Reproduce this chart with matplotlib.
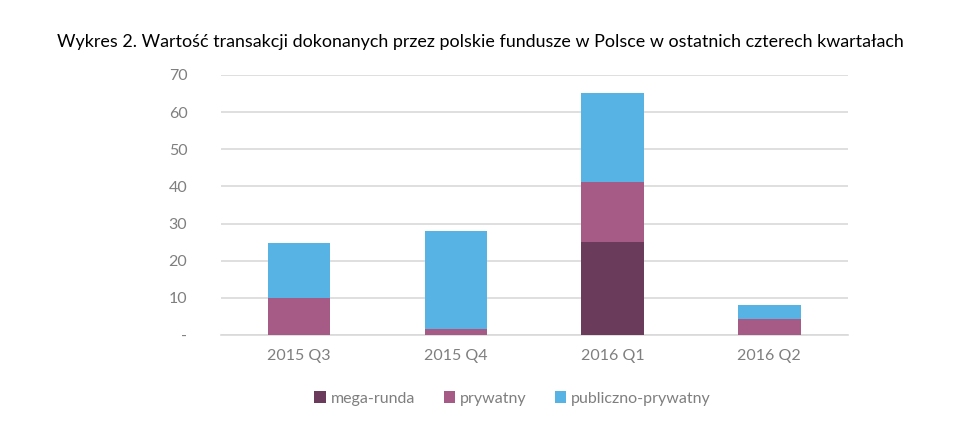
import numpy as np
import matplotlib.pyplot as plt

quarters = ["2015 Q3", "2015 Q4", "2016 Q1", "2016 Q2"]
mega_runda = [0.0, 0.0, 25.0, 0.0]
prywatny = [10.0, 1.6, 16.2, 4.3]
publiczno_prywatny = [14.8, 26.4, 24.0, 3.8]

colors = ["#6B3B5B", "#A65B87", "#56B3E4"]
labels = ["mega-runda", "prywatny", "publiczno-prywatny"]

plt.rcParams['font.family'] = ['Lato', 'DejaVu Sans']

fig = plt.figure(figsize=(9.58, 4.38), dpi=100)
ax = fig.add_axes([0.2304, 0.2352, 0.6545, 0.5936])

x = np.arange(len(quarters))
bottom = np.zeros(len(quarters))
for vals, c, lab in zip([mega_runda, prywatny, publiczno_prywatny], colors, labels):
    ax.bar(x, vals, width=0.4, bottom=bottom, color=c, label=lab, zorder=3)
    bottom += np.array(vals)

ax.set_xlim(-0.5, 3.5)
ax.set_ylim(0, 70)
ax.set_yticks(range(0, 71, 10))
ax.set_yticklabels(["-"] + [str(v) for v in range(10, 71, 10)])
ax.set_xticks(x)
ax.set_xticklabels(quarters)
ax.yaxis.grid(True, color="#D9D9D9", linewidth=1.2, zorder=0)
for s in ["top", "right", "left"]:
    ax.spines[s].set_visible(False)
ax.spines["bottom"].set_color("#D9D9D9")
ax.spines["bottom"].set_linewidth(1.2)
ax.tick_params(axis="both", length=0, colors="#7F7F7F", labelsize=11.5)
ax.tick_params(axis="y", pad=24)
ax.tick_params(axis="x", pad=10)
for t in ax.get_yticklabels():
    t.set_horizontalalignment("right")

fig.text(0.501, 0.905, "Wykres 2. Wartość transakcji dokonanych przez polskie fundusze w Polsce w ostatnich czterech kwartałach",
         ha="center", va="center", fontsize=12.9, color="black")

leg = fig.legend(loc="center", bbox_to_anchor=(0.535, 0.09), ncol=3, frameon=False,
                 fontsize=11.5, handlelength=0.7, handleheight=0.7, handletextpad=0.3,
                 columnspacing=1.8)
for t in leg.get_texts():
    t.set_color("#7F7F7F")

fig.savefig("out.png", dpi=100)
